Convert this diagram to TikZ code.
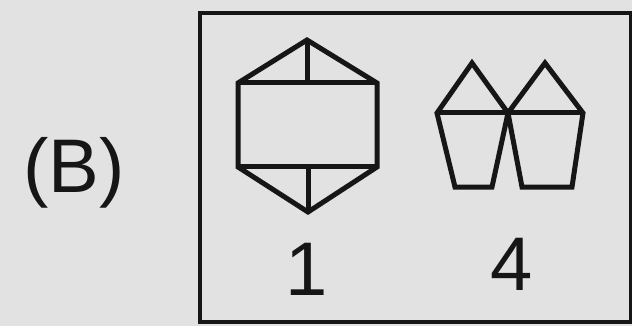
\documentclass[tikz,border=0pt]{standalone}
\usepackage{fontspec}
\setmainfont{Liberation Sans}
\usetikzlibrary{positioning}
\definecolor{papergray}{RGB}{226,226,226}
\definecolor{inkcolor}{RGB}{22,22,22}
\tikzset{
  frame/.style  = {draw=inkcolor, line width=3.6pt},
  figline/.style = {draw=inkcolor, line width=5pt, line join=miter},
  lbl/.style    = {anchor=base, inner sep=0pt, text=inkcolor,
                   font=\fontsize{76}{80}\selectfont},
}

\begin{document}
\begin{tikzpicture}[x=1pt, y=-1pt]
  % page and frame
  \useasboundingbox[fill=papergray] (0,0) rectangle (632,326);
  \draw[frame] (200,13) rectangle (631,322);

  % option label
  \node[lbl] (optB) at (74,193) {(B)};

  % figure 1: hexagon with two bars
  \coordinate (h1) at (307,40);
  \coordinate (h2) at (377,83);
  \coordinate (h3) at (377,167);
  \coordinate (h4) at (308,212);
  \coordinate (h5) at (238,167);
  \coordinate (h6) at (238,83);
  \draw[figline] (h1) -- (h2) -- (h3) -- (h4) -- (h5) -- (h6) -- cycle;
  \draw[figline] (h6) -- (h2);
  \draw[figline] (h5) -- (h3);
  \draw[figline] (h1) -- (h1 |- h6);
  \draw[figline] (h4) -- (h4 |- h5);
  \node[lbl] (num1) at (307,295) {1};

  % figure 4: two pentagons sharing a vertex
  \coordinate (p0) at (508,113);
  \coordinate (a1) at (472,63);
  \coordinate (a2) at (437,113);
  \coordinate (a3) at (455,187);
  \coordinate (a4) at (492,187);
  \coordinate (b1) at (545,63);
  \coordinate (b2) at (583,113);
  \coordinate (b3) at (572,187);
  \coordinate (b4) at (522,187);
  \draw[figline] (p0) -- (a1) -- (a2) -- (a3) -- (a4) -- cycle;
  \draw[figline] (p0) -- (b1) -- (b2) -- (b3) -- (b4) -- cycle;
  \draw[figline] (a2) -- (b2);
  \node[lbl] (num4) at (512,290) {4};
\end{tikzpicture}
\end{document}
